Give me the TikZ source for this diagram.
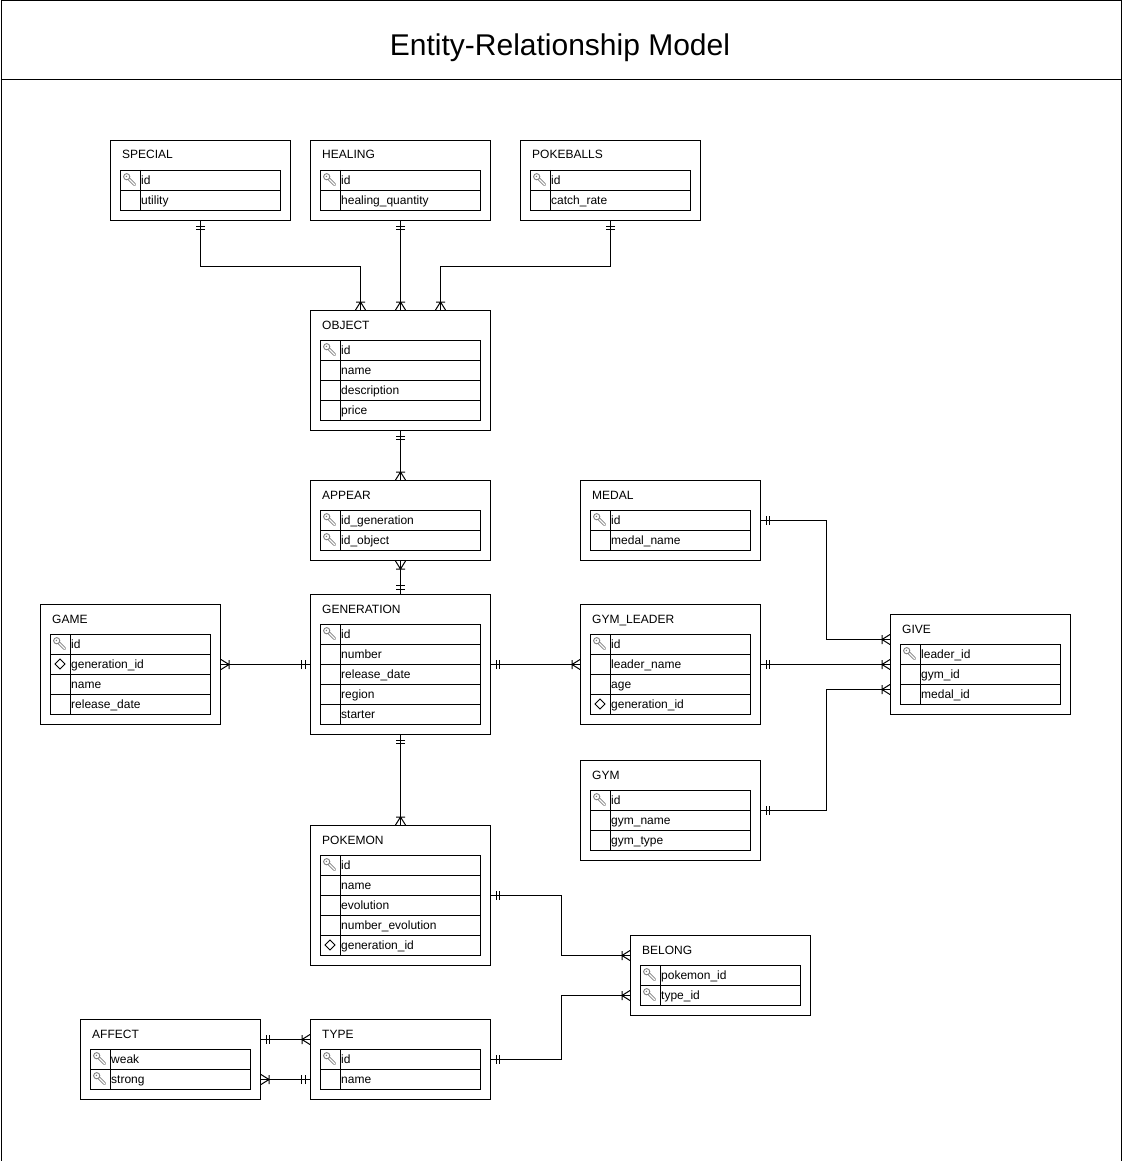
\documentclass[tikz,border=0pt]{standalone}
\usepackage{fontspec}
\setmainfont{Liberation Sans}
\usetikzlibrary{calc}
\definecolor{keygray}{HTML}{808080}
\pgfdeclarearrow{
  name = ERone,
  setup code = {
    \pgfarrowssettipend{0pt}
    \pgfarrowssetlineend{0pt}
    \pgfarrowssetbackend{-10pt}
    \pgfarrowshullpoint{0pt}{4.5pt}
    \pgfarrowshullpoint{0pt}{-4.5pt}
    \pgfarrowshullpoint{-10pt}{4.5pt}
    \pgfarrowshullpoint{-10pt}{-4.5pt}
  },
  drawing code = {
    \pgfpathmoveto{\pgfqpoint{-5pt}{-4.5pt}}\pgfpathlineto{\pgfqpoint{-5pt}{4.5pt}}
    \pgfpathmoveto{\pgfqpoint{-8.5pt}{-4.5pt}}\pgfpathlineto{\pgfqpoint{-8.5pt}{4.5pt}}
    \pgfusepathqstroke
  }
}
\pgfdeclarearrow{
  name = ERmany,
  setup code = {
    \pgfarrowssettipend{0pt}
    \pgfarrowssetlineend{0pt}
    \pgfarrowssetbackend{-10pt}
    \pgfarrowshullpoint{0pt}{5pt}
    \pgfarrowshullpoint{0pt}{-5pt}
    \pgfarrowshullpoint{-10pt}{5pt}
    \pgfarrowshullpoint{-10pt}{-5pt}
  },
  drawing code = {
    \pgfpathmoveto{\pgfqpoint{0pt}{5pt}}\pgfpathlineto{\pgfqpoint{-8pt}{0pt}}\pgfpathlineto{\pgfqpoint{0pt}{-5pt}}
    \pgfpathmoveto{\pgfqpoint{-8pt}{-4.5pt}}\pgfpathlineto{\pgfqpoint{-8pt}{4.5pt}}
    \pgfusepathqstroke
  }
}
\tikzset{
  entbox/.style={draw, line width=1pt, minimum width=180pt, inner sep=0pt, anchor=north west},
  rowbox/.style={draw, line width=1pt, minimum width=160pt, minimum height=20pt, inner sep=0pt, anchor=north west},
  titletext/.style={font=\fontsize{12}{14}\selectfont, inner sep=0pt, anchor=base west},
  fieldtext/.style={font=\fontsize{12}{14}\selectfont, inner sep=0pt, anchor=base west},
  erl/.style={draw, line width=1pt},
  erkey/.pic={
    \draw[keygray, line width=3pt, line cap=round] (-1.5,-1.5) -- (4.5,4.5);
    \draw[white, line width=1.2pt, line cap=round] (-1,-1) -- (4.5,4.5);
    \draw[keygray, fill=white, line width=0.9pt] (-3.3,-3.3) circle (3.1);
    \fill[keygray] (-3.6,-3.6) circle (0.8);
  },
  erdiam/.pic={
    \draw[line width=1pt] (-5,0) -- (0,-5) -- (5,0) -- (0,5) -- cycle;
  }
}
\newcommand\erentity[6]{%
  \pgfmathsetmacro\erh{40+20*#5}%
  \node[entbox, minimum height=\erh pt] (#1) at (#2,#3) {};
  \node[titletext] (#1-t) at (#2+12,#3+19) {#4};
  \foreach [count=\i] \ic/\tx in {#6} {
    \pgfmathsetmacro\ry{#3+30+20*(\i-1)}
    \node[rowbox] (#1-r\i) at (#2+10,\ry) {};
    \draw[line width=1pt] (#2+30,\ry) -- (#2+30,\ry+20);
    \node[fieldtext] (#1-f\i) at (#2+31,\ry+14.3) {\tx};
    \if\ic k \pic at (#2+20,\ry+10) {erkey};\fi
    \if\ic d \pic at (#2+20,\ry+10) {erdiam};\fi
  }
}
\begin{document}
\begin{tikzpicture}[x=1pt,y=-1pt]
\useasboundingbox (0,0) rectangle (1121,1161);
\node[draw, line width=1pt, minimum width=1120pt, minimum height=1160pt, anchor=north west, inner sep=0pt] (frame) at (0.5,0.5) {};
\draw[line width=1pt] (frame.north west |- 0,80) -- (frame.north east |- 0,80);
\node[font=\fontsize{30}{36}\selectfont, inner sep=0pt, anchor=base] (title) at (560,56) {Entity-Relationship Model};

\erentity{special}{110}{140}{SPECIAL}{2}{k/id, n/utility}
\erentity{healing}{310}{140}{HEALING}{2}{k/id, n/healing\_quantity}
\erentity{pokeballs}{520}{140}{POKEBALLS}{2}{k/id, n/catch\_rate}
\erentity{object}{310}{310}{OBJECT}{4}{k/id, n/name, n/description, n/price}
\erentity{appear}{310}{480}{APPEAR}{2}{k/id\_generation, k/id\_object}
\erentity{medal}{580}{480}{MEDAL}{2}{k/id, n/medal\_name}
\erentity{game}{40}{604}{GAME}{4}{k/id, d/generation\_id, n/name, n/release\_date}
\erentity{generation}{310}{594}{GENERATION}{5}{k/id, n/number, n/release\_date, n/region, n/starter}
\erentity{gymleader}{580}{604}{GYM\_LEADER}{4}{k/id, n/leader\_name, n/age, d/generation\_id}
\erentity{give}{890}{614}{GIVE}{3}{k/leader\_id, n/gym\_id, n/medal\_id}
\erentity{gym}{580}{760}{GYM}{3}{k/id, n/gym\_name, n/gym\_type}
\erentity{pokemon}{310}{825}{POKEMON}{5}{k/id, n/name, n/evolution, n/number\_evolution, d/generation\_id}
\erentity{belong}{630}{935}{BELONG}{2}{k/pokemon\_id, k/type\_id}
\erentity{affect}{80}{1019}{AFFECT}{2}{k/weak, k/strong}
\erentity{type}{310}{1019}{TYPE}{2}{k/id, n/name}

\draw[erl, ERone-ERmany] (special.south) -- ++(0,45) -| ([xshift=-40pt]object.north);
\draw[erl, ERone-ERmany] (healing.south) -- (object.north);
\draw[erl, ERone-ERmany] (pokeballs.south) -- ++(0,45) -| ([xshift=40pt]object.north);
\draw[erl, ERone-ERmany] (object.south) -- (appear.north);
\draw[erl, ERmany-ERone] (appear.south) -- (generation.north);
\draw[erl, ERmany-ERone] (game.east) -- (generation.west);
\draw[erl, ERone-ERmany] (generation.east) -- (gymleader.west);
\draw[erl, ERone-ERmany] (generation.south) -- (pokemon.north);
\draw[erl, ERone-ERmany] (medal.east) -- ++(65,0) |- ([yshift=25pt]give.west);
\draw[erl, ERone-ERmany] (gymleader.east) -- (give.west);
\draw[erl, ERone-ERmany] (gym.east) -- ++(65,0) |- ([yshift=-25pt]give.west);
\draw[erl, ERone-ERmany] (pokemon.east) -- ++(70,0) |- ([yshift=20pt]belong.west);
\draw[erl, ERone-ERmany] (type.east) -- ++(70,0) |- ([yshift=-20pt]belong.west);
\draw[erl, ERone-ERmany] ([yshift=20pt]affect.east) -- ([yshift=20pt]type.west);
\draw[erl, ERmany-ERone] ([yshift=-20pt]affect.east) -- ([yshift=-20pt]type.west);
\end{tikzpicture}
\end{document}
